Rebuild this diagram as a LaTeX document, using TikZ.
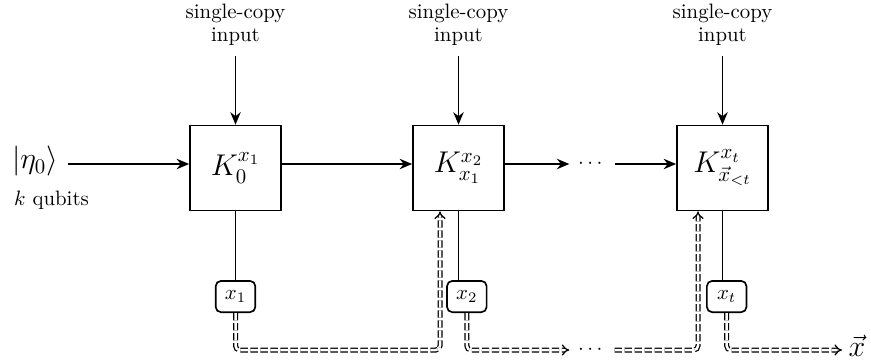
\documentclass[tikz,border=0pt]{standalone}
\usepackage{tikz}
\usetikzlibrary{positioning, arrows.meta, calc}
\usepackage{amsmath,amssymb}

\begin{document}
\begin{tikzpicture}[
            x=0.48pt, y=-0.48pt,
            >={Stealth[length=6pt, width=5pt]},
            gate/.style={rectangle, draw, thick, minimum width=43.7pt, minimum height=40.8pt, font=\Large},
            outcome/.style={rectangle, draw, thick, rounded corners=2.5pt, minimum width=19pt, minimum height=15pt, inner sep=2pt},
            source/.style={align=center, inner sep=5pt},
            wire/.style={thick},
            bus/.style={double, double distance=1.2pt, line width=0.6pt, dash pattern=on 3.5pt off 1.3pt, rounded corners=2pt, -{Implies[scale=1.3]}}
            ]
        \useasboundingbox (0,0) rectangle (871,362);

        % Blocchi principali
        \node[gate] (k0) at (235.5,168) {$K_0^{x_1}$};
        \node[gate] (k1) at (458.5,168) {$K_{x_1}^{x_2}$};
        \node[gate] (k2) at (722.5,168) {$K_{\vec{x}_{<t}}^{x_t}$};

        \node[source, above=33pt of k0] (s0) {single-copy\\[-1pt]input};
        \node[source, above=33pt of k1] (s1) {single-copy\\[-1pt]input};
        \node[source, above=33pt of k2] (s2) {single-copy\\[-1pt]input};

        \node[outcome, below=33pt of k0] (x1) {$x_1$};
        \node[outcome, below=33pt of k1, xshift=4pt] (x2) {$x_2$};
        \node[outcome, below=33pt of k2, xshift=2pt] (x3) {$x_t$};

        \node[inner sep=0pt] (eta) at (35,161) {\Large$|\eta_0\rangle$};
        \node[below=7pt of eta.south west, anchor=north west, inner sep=0pt, xshift=1pt] (kq) {$k$ qubits};

        \node[inner sep=4pt] (dots) at (592,164) {$\cdots$};
        \node[inner sep=4pt] (bdots) at (592,350) {$\cdots$};
        \node[inner sep=3pt, anchor=west] (xvec) at (842,346) {\Large$\vec{x}$};

        \coordinate (r1) at (440,350);
        \coordinate (r2) at (698,350);

        % Fili quantistici
        \draw[wire, ->] (eta.east) ++(10,3) -- (k0.west |- dots);
        \draw[wire, ->] (k0.east |- dots) -- (k1.west |- dots);
        \draw[wire, ->] (k1.east |- dots) -- (dots.west);
        \draw[wire, ->] (dots.east) -- (k2.west |- dots);
        \foreach \i in {0,1,2}
            \draw[wire, ->] (s\i.south) -- (k\i.north);
        \draw[wire] (k0.south) -- (k0.south |- x1.north);
        \draw[wire] (k1.south) -- (k1.south |- x2.north);
        \draw[wire] (k2.south) -- (k2.south |- x3.north);

        % Fili classici
        \draw[bus] (x1.south) |- (r1) -- (r1 |- k1.south);
        \draw[bus] (x2.south) |- (bdots.west);
        \draw[bus] (bdots.east) -- (r2) -- (r2 |- k2.south);
        \draw[bus] (x3.south) |- (xvec.west |- r2);
        \end{tikzpicture}
\end{document}
